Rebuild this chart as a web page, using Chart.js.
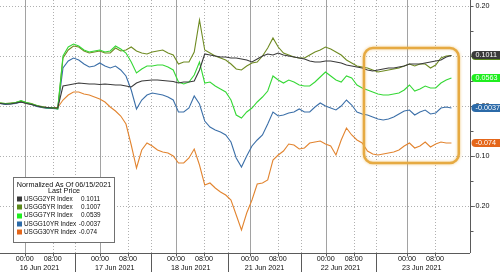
<!DOCTYPE html>
<html>
<head>
<meta charset="utf-8">
<title>USGG yields normalized as of 06/15/2021</title>
<script src="https://cdn.jsdelivr.net/npm/chart.js@4.4.1/dist/chart.umd.min.js"></script>
<style>
    html, body { margin: 0; padding: 0; background: #fff; }
    #wrap { width: 500px; height: 272px; }
</style>
</head>
<body>
<div id="wrap"><canvas id="yieldChart" width="500" height="272"></canvas></div>
<script>
// Treasury yields, change since the 15 Jun close (Bloomberg style)

const STEP_HOURS = 1.5;          // spacing of the samples on the session-hour axis
const X_MAX = 134.3;             // session hours visible
const Y_MIN = -0.294;
const Y_MAX = 0.212;
const FONT = '7.2px "Liberation Sans", Arial, sans-serif';
const ROW_FONT = '6.4px "Liberation Sans", Arial, sans-serif';

const seriesNames = ['USGG2YR Index', 'USGG5YR Index', 'USGG7YR Index', 'USGG10YR Index', 'USGG30YR Index'];
const seriesColors = ['#3a3a3a', '#6f8b22', '#35d835', '#3b6fa8', '#e2842f'];
const legendColors = ['#3a3a3a', '#5b8a1b', '#1fee1f', '#2b6aa8', '#e4661a'];
const lastPrices = ['0.1011', '0.1007', '0.0539', '-0.0037', '-0.074'];
const badgeValues = [0.1011, 0.1007, 0.0563, -0.0037, -0.074];
const badgeLabels = ['0.1011', '0.1007', '0.0563', '-0.0037', '-0.074'];

const usgg2yr = [0.005, 0.004, 0.004, 0.006, 0.008, 0.005, 0.003, 0.000, -0.002, -0.003, -0.004, -0.004,
    0.040, 0.042, 0.044, 0.046, 0.045, 0.044, 0.044, 0.043, 0.044, 0.043, 0.042, 0.042, 0.040, 0.038, 0.046,
    0.050, 0.051, 0.052, 0.052, 0.051, 0.050, 0.049, 0.046, 0.048, 0.048, 0.050, 0.072, 0.104, 0.102, 0.100,
    0.098, 0.098, 0.096, 0.096, 0.094, 0.092, 0.088, 0.094, 0.100, 0.104, 0.102, 0.106, 0.102, 0.100, 0.098,
    0.096, 0.094, 0.090, 0.088, 0.088, 0.090, 0.090, 0.088, 0.086, 0.082, 0.080, 0.078, 0.076, 0.072, 0.070,
    0.072, 0.074, 0.076, 0.076, 0.078, 0.080, 0.084, 0.084, 0.084, 0.086, 0.088, 0.090, 0.092, 0.098, 0.101];

const usgg5yr = [0.006, 0.005, 0.006, 0.007, 0.010, 0.007, 0.005, 0.001, -0.001, -0.003, -0.004, -0.005,
    0.096, 0.112, 0.120, 0.118, 0.110, 0.106, 0.108, 0.110, 0.106, 0.106, 0.116, 0.110, 0.112, 0.118, 0.110,
    0.106, 0.104, 0.108, 0.110, 0.112, 0.106, 0.102, 0.084, 0.088, 0.088, 0.108, 0.172, 0.112, 0.106, 0.100,
    0.096, 0.092, 0.084, 0.074, 0.072, 0.080, 0.086, 0.088, 0.100, 0.116, 0.136, 0.118, 0.106, 0.102, 0.098,
    0.096, 0.096, 0.102, 0.108, 0.112, 0.118, 0.114, 0.108, 0.102, 0.092, 0.086, 0.080, 0.078, 0.076, 0.072,
    0.068, 0.070, 0.072, 0.074, 0.076, 0.080, 0.084, 0.080, 0.084, 0.084, 0.076, 0.082, 0.096, 0.100, 0.101];

const usgg7yr = [0.006, 0.005, 0.005, 0.007, 0.011, 0.007, 0.004, 0.001, -0.002, -0.004, -0.003, -0.006,
    0.100, 0.118, 0.124, 0.120, 0.112, 0.108, 0.110, 0.112, 0.108, 0.110, 0.120, 0.114, 0.106, 0.088, 0.066,
    0.074, 0.080, 0.080, 0.082, 0.082, 0.078, 0.072, 0.048, 0.044, 0.048, 0.062, 0.088, 0.046, 0.048, 0.040,
    0.034, 0.028, 0.012, -0.018, -0.024, -0.012, -0.004, 0.008, 0.018, 0.030, 0.060, 0.052, 0.046, 0.052, 0.048,
    0.042, 0.040, 0.040, 0.048, 0.058, 0.068, 0.060, 0.052, 0.048, 0.060, 0.056, 0.042, 0.036, 0.032, 0.028,
    0.024, 0.022, 0.022, 0.024, 0.026, 0.032, 0.042, 0.030, 0.034, 0.040, 0.036, 0.036, 0.046, 0.052, 0.056];

const usgg10yr = [0.005, 0.003, 0.004, 0.005, 0.008, 0.006, 0.003, -0.001, -0.003, -0.005, -0.005, -0.006,
    0.076, 0.090, 0.096, 0.092, 0.084, 0.078, 0.080, 0.086, 0.080, 0.076, 0.080, 0.072, 0.060, 0.032, -0.006,
    0.012, 0.022, 0.026, 0.024, 0.022, 0.018, 0.012, -0.012, -0.012, -0.004, 0.020, 0.004, -0.030, -0.042, -0.048,
    -0.052, -0.058, -0.072, -0.104, -0.122, -0.100, -0.080, -0.068, -0.058, -0.036, -0.012, -0.020, -0.018, -0.014,
    -0.012, -0.006, -0.012, -0.012, -0.002, 0.006, 0.000, -0.004, -0.008, 0.000, 0.012, 0.002, -0.012, -0.016,
    -0.018, -0.022, -0.026, -0.028, -0.026, -0.022, -0.016, -0.010, -0.008, -0.018, -0.012, -0.008, -0.016,
    -0.014, -0.004, -0.002, -0.004];

const usgg30yr = [0.006, 0.004, 0.005, 0.006, 0.009, 0.005, 0.004, 0.000, -0.003, -0.004, -0.003, -0.003,
    0.012, 0.022, 0.028, 0.028, 0.024, 0.022, 0.018, 0.014, 0.008, -0.002, -0.010, -0.020, -0.036, -0.078, -0.124,
    -0.088, -0.074, -0.080, -0.088, -0.092, -0.094, -0.100, -0.114, -0.114, -0.104, -0.086, -0.118, -0.158, -0.154,
    -0.164, -0.172, -0.178, -0.188, -0.218, -0.248, -0.214, -0.188, -0.156, -0.154, -0.148, -0.108, -0.098, -0.090,
    -0.076, -0.078, -0.086, -0.084, -0.074, -0.072, -0.070, -0.076, -0.080, -0.098, -0.068, -0.044, -0.058, -0.068,
    -0.074, -0.090, -0.096, -0.098, -0.096, -0.094, -0.092, -0.088, -0.080, -0.074, -0.084, -0.080, -0.072, -0.082,
    -0.076, -0.072, -0.074, -0.074];

// x axis: session hours of each 00:00, and the breaks between trading days
const dayLabels = ['16 Jun 2021', '17 Jun 2021', '18 Jun 2021', '21 Jun 2021', '22 Jun 2021', '23 Jun 2021'];
const dayMidnights = [7.1, 28.6, 50.3, 71.4, 93.1, 116.3];
const daySeparators = [21.4, 43.1, 65.1, 86.0, 107.4];
const yTickValues = [0.20, 0.10, 0.00, -0.10, -0.20];
const yMinorTicks = [0.20, 0.15, 0.10, 0.05, 0.00, -0.05, -0.10, -0.15, -0.20, -0.25];

// boxed area on 23 Jun
const highlight = { from: 104, to: 131.1, top: 0.116, bottom: -0.114 };

const allSeries = [usgg2yr, usgg5yr, usgg7yr, usgg10yr, usgg30yr];
const drawOrder = [0, 2, 1, 3, 4];

function vline(ctx, x, y1, y2) {
    ctx.beginPath();
    ctx.moveTo(x, y1);
    ctx.lineTo(x, y2);
    ctx.stroke();
}

function hline(ctx, y, x1, x2) {
    ctx.beginPath();
    ctx.moveTo(x1, y);
    ctx.lineTo(x2, y);
    ctx.stroke();
}

const crisp = v => Math.round(v) + 0.5;

const bloombergFrame = {
    id: 'bloombergFrame',
    beforeDatasetsDraw(chart) {
        const { ctx, chartArea: a, scales: { x, y } } = chart;
        ctx.save();
        ctx.lineWidth = 1;

        // dotted grid
        ctx.strokeStyle = '#b0b0b0';
        ctx.setLineDash([1, 2]);
        yTickValues.forEach(v => hline(ctx, crisp(y.getPixelForValue(v)), a.left, a.right));
        dayMidnights.forEach(h => vline(ctx, crisp(x.getPixelForValue(h + 8)), a.top, a.bottom));
        daySeparators.forEach(h => vline(ctx, crisp(x.getPixelForValue(h)), a.top, a.bottom));

        // solid lines at midnight
        ctx.setLineDash([]);
        ctx.strokeStyle = '#a2a2a2';
        dayMidnights.forEach(h => vline(ctx, crisp(x.getPixelForValue(h)), a.top, a.bottom));
        ctx.restore();
    },
    afterDatasetsDraw(chart) {
        const { ctx, chartArea: a, scales: { x, y } } = chart;
        const W = chart.width, H = chart.height;
        ctx.save();

        // highlight box
        const bx1 = x.getPixelForValue(highlight.from), bx2 = x.getPixelForValue(highlight.to);
        const by1 = y.getPixelForValue(highlight.top), by2 = y.getPixelForValue(highlight.bottom);
        ctx.shadowColor = 'rgba(230, 170, 60, 0.6)';
        ctx.shadowBlur = 3;
        ctx.strokeStyle = '#e6aa42';
        ctx.lineWidth = 2.5;
        ctx.beginPath();
        ctx.roundRect(bx1, by1, bx2 - bx1, by2 - by1, 9);
        ctx.stroke();
        ctx.shadowBlur = 0;
        ctx.shadowColor = 'transparent';

        // axes
        ctx.lineWidth = 1;
        ctx.strokeStyle = '#5a5a5a';
        const axisY = crisp(a.bottom);
        const axisX = crisp(a.right);
        hline(ctx, axisY, a.left, a.right);
        vline(ctx, axisX, a.top, a.bottom);
        yMinorTicks.forEach(v => hline(ctx, crisp(y.getPixelForValue(v)), axisX, axisX + 3));
        dayMidnights.forEach(h => {
            vline(ctx, crisp(x.getPixelForValue(h)), axisY, axisY + 3);
            vline(ctx, crisp(x.getPixelForValue(h + 8)), axisY, axisY + 3);
        });
        daySeparators.forEach(h => vline(ctx, crisp(x.getPixelForValue(h)), axisY, H));

        // tick labels
        ctx.font = FONT;
        ctx.fillStyle = '#0e0e0e';
        ctx.textBaseline = 'middle';
        ctx.textAlign = 'center';
        dayMidnights.forEach((h, i) => {
            ctx.fillText('00:00', x.getPixelForValue(h), axisY + 6);
            ctx.fillText('08:00', x.getPixelForValue(h + 8), axisY + 6);
            ctx.fillText(dayLabels[i], x.getPixelForValue(h + 4.2), axisY + 15);
        });
        ctx.textAlign = 'left';
        yTickValues.forEach(v => {
            const label = v.toFixed(2);
            const off = label.startsWith('-') ? ctx.measureText('-').width : 0;
            ctx.fillText(label, axisX + 5 - off, y.getPixelForValue(v));
        });

        // last value badges
        [1, 0, 2, 3, 4].forEach(i => {
            const cy = Math.round(y.getPixelForValue(badgeValues[i]));
            ctx.fillStyle = legendColors[i];
            ctx.beginPath();
            ctx.roundRect(axisX + 1, cy - 4, W - axisX, 8, [4, 0, 0, 4]);
            ctx.fill();
            ctx.fillStyle = '#ffffff';
            ctx.fillText(badgeLabels[i], axisX + 5, cy + 0.5);
        });

        // legend
        const lx = 13.5, ly = 177.5, lw = 101, lh = 65;
        ctx.fillStyle = '#ffffff';
        ctx.fillRect(lx, ly, lw, lh);
        ctx.strokeStyle = '#707070';
        ctx.strokeRect(lx, ly, lw, lh);
        ctx.fillStyle = '#0e0e0e';
        ctx.textAlign = 'center';
        ctx.fillText('Normalized As Of 06/15/2021', lx + lw / 2, 185);
        ctx.fillText('Last Price', lx + lw / 2, 191.5);
        ctx.textAlign = 'left';
        ctx.font = ROW_FONT;
        seriesNames.forEach((name, i) => {
            const ry = 199 + i * 8.3;
            ctx.fillStyle = legendColors[i];
            ctx.fillRect(17, Math.round(ry) - 2.5, 5, 5);
            ctx.fillStyle = '#0e0e0e';
            ctx.fillText(name, 24, ry);
            const off = lastPrices[i].startsWith('-') ? ctx.measureText('-').width : 0;
            ctx.fillText(lastPrices[i], 81 - off, ry);
        });
        ctx.restore();
    }
};

const datasets = drawOrder.map(i => ({
    label: seriesNames[i],
    data: allSeries[i].map((v, k) => ({ x: k * STEP_HOURS, y: v })),
    borderColor: seriesColors[i],
    borderWidth: 1.1,
    pointRadius: 0,
    tension: 0
}));

new Chart(document.getElementById('yieldChart').getContext('2d'), {
    type: 'line',
    data: { datasets: datasets },
    options: {
        responsive: false,
        animation: false,
        devicePixelRatio: 1,
        layout: { padding: { left: 0, top: 0, right: 30, bottom: 19 } },
        plugins: {
            legend: { display: false },
            tooltip: { enabled: false }
        },
        scales: {
            x: { type: 'linear', min: 0, max: X_MAX, display: false },
            y: { type: 'linear', min: Y_MIN, max: Y_MAX, display: false }
        }
    },
    plugins: [bloombergFrame]
});
</script>
</body>
</html>
